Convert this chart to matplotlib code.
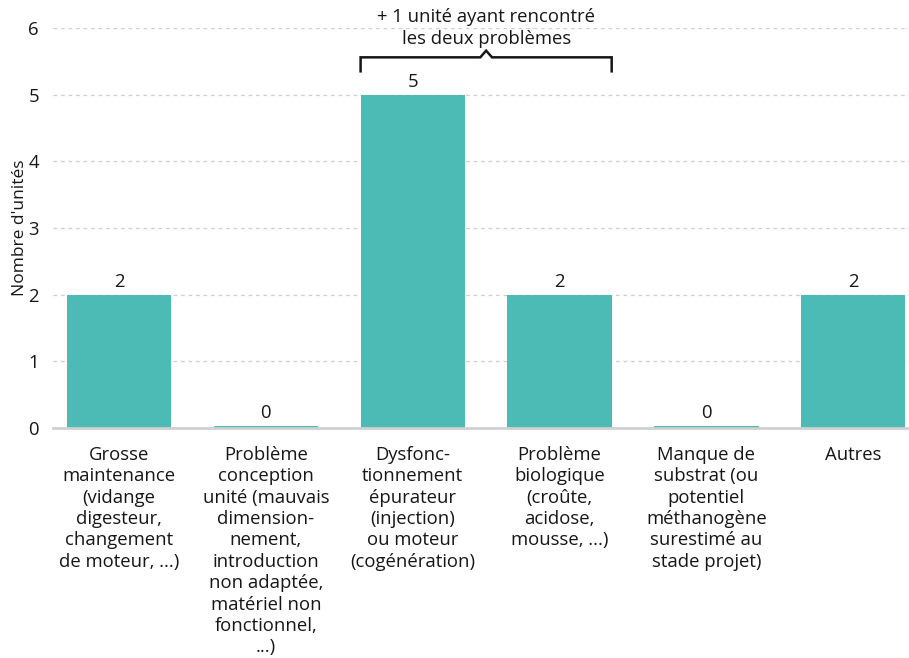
import matplotlib
matplotlib.use("Agg")
import matplotlib.pyplot as plt
import numpy as np

categories = [
    "Grosse\nmaintenance\n(vidange\ndigesteur,\nchangement\nde moteur, ...)",
    "Problème\nconception\nunité (mauvais\ndimension-\nnement,\nintroduction\nnon adaptée,\nmatériel non\nfonctionnel,\n...)",
    "Dysfonc-\ntionnement\népurateur\n(injection)\nou moteur\n(cogénération)",
    "Problème\nbiologique\n(croûte,\nacidose,\nmousse, ...)",
    "Manque de\nsubstrat (ou\npotentiel\nméthanogène\nsurestimé au\nstade projet)",
    "Autres",
]
values = [2, 0, 5, 2, 0, 2]
yticks = [0, 1, 2, 3, 4, 5, 6]
ylabel = "Nombre d'unités"
annotation = "+ 1 unité ayant rencontré\nles deux problèmes"

plt.rcParams['font.family'] = ['Open Sans', 'DejaVu Sans']

fig = plt.figure(figsize=(9.09, 6.58), dpi=100)
ax = fig.add_axes([53/909, 1 - 428/658, (909-53)/909, 400/658])

color = "#4dbbb5"
fs = 13.3
x = np.arange(len(values))
heights = [v if v > 0 else 0.035 for v in values]
ax.bar(x, heights, width=0.71, color=color, zorder=3)
for xi, v, h in zip(x, values, heights):
    ax.text(xi, h + 0.05, str(v), ha="center", va="bottom", fontsize=fs, color="#161616")

ax.set_xlim(-0.45, 5.38)
ax.set_ylim(0, 6)
ax.set_yticks(yticks)
ax.set_yticklabels([str(t) for t in yticks], fontsize=fs, color="#161616")
ax.yaxis.grid(True, linestyle=(0, (3, 3)), color="#cfcfcf", linewidth=0.9, zorder=0)
ax.set_axisbelow(True)
for s in ["top", "right", "left"]:
    ax.spines[s].set_visible(False)
ax.spines["bottom"].set_color("#d0d0d0")
ax.spines["bottom"].set_linewidth(2)
ax.spines["bottom"].set_zorder(4)
ax.tick_params(axis="y", length=0, pad=10)
ax.tick_params(axis="x", length=0, pad=13)
ax.set_xticks(x)
ax.set_xticklabels(categories, fontsize=fs, color="#161616", linespacing=1.24, va="top")
ax.set_ylabel(ylabel, fontsize=12.5, color="#161616")
ax.yaxis.set_label_coords(-0.029, 0.5)

# bracket across bars 2 and 3
left = 2 - 0.355
right = 3 + 0.355
mid = (left + right) / 2
ytop, ybot, ypeak = 5.56, 5.35, 5.66
ax.plot([left, left, mid - 0.04, mid, mid + 0.04, right, right],
        [ybot, ytop, ytop, ypeak, ytop, ytop, ybot],
        color="#161616", linewidth=1.8, clip_on=False, solid_joinstyle="miter")
ax.text(mid, 6.0, annotation, ha="center", va="center", fontsize=fs,
        color="#161616", linespacing=1.26, clip_on=False)

fig.savefig("out.png", dpi=100)
